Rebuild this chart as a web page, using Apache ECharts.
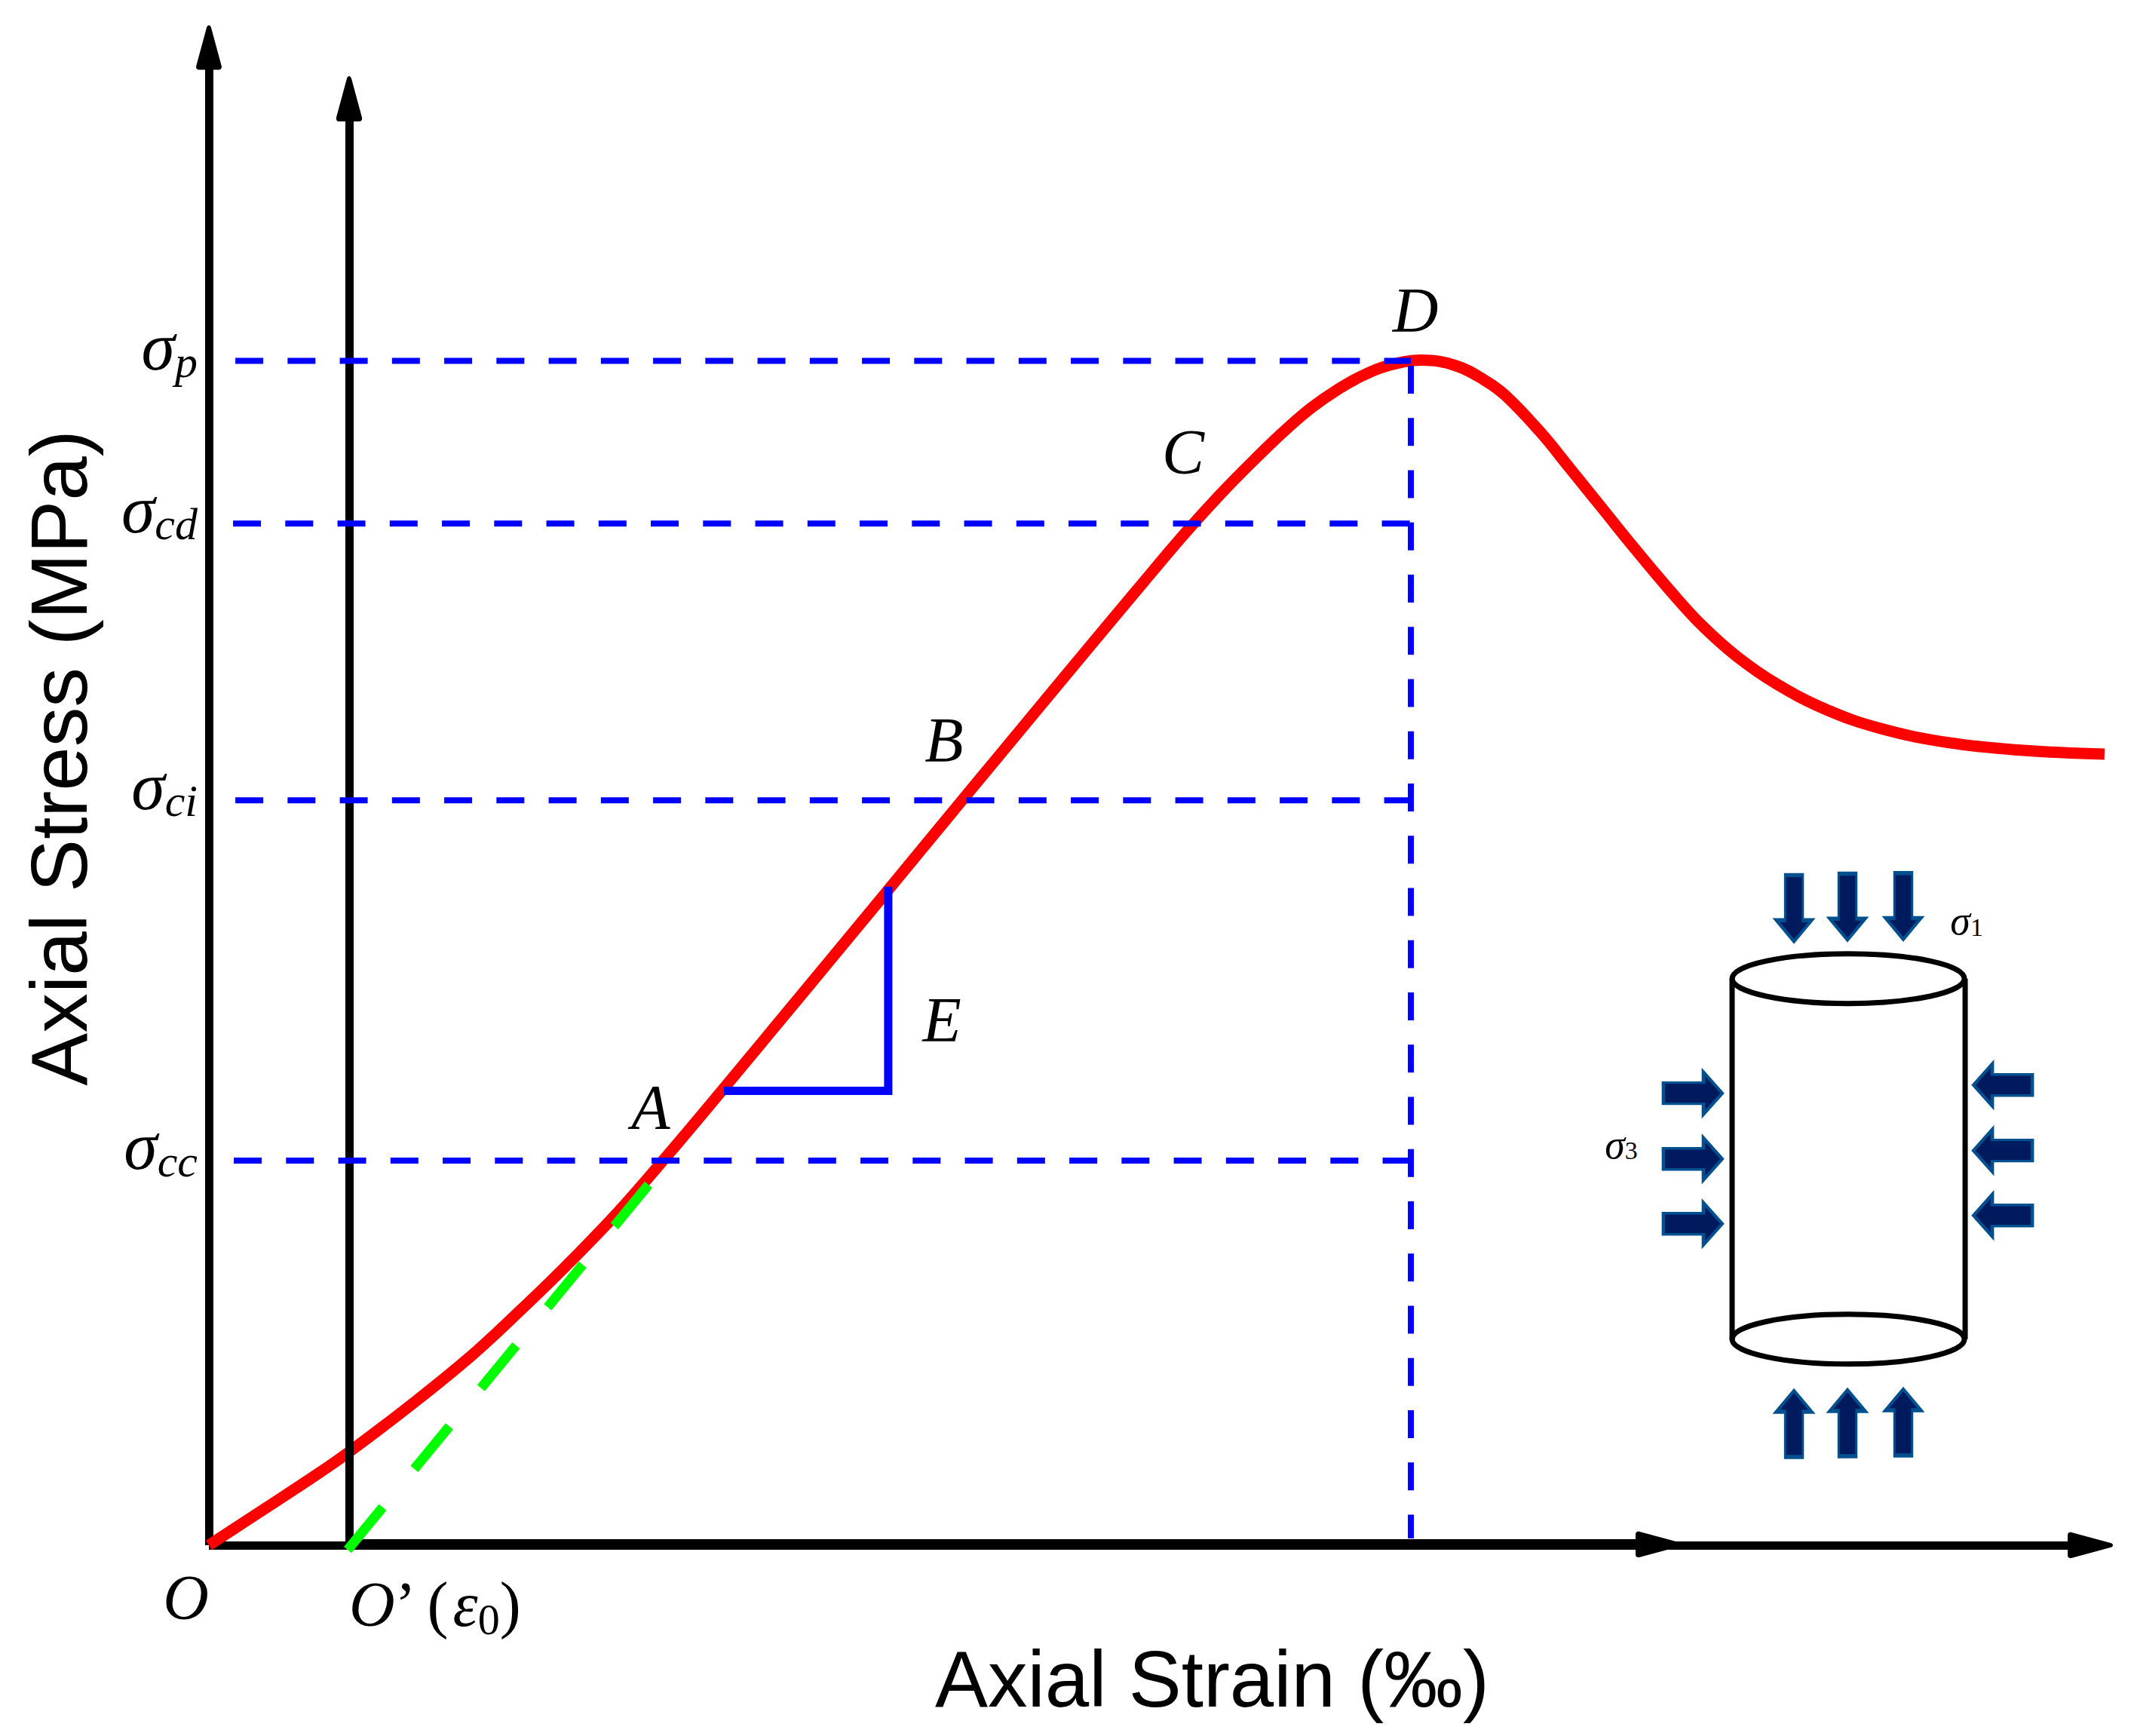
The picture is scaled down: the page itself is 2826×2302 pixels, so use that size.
<!DOCTYPE html>
<html>
<head>
<meta charset="utf-8">
<title>Axial stress-strain curve</title>
<script src="https://cdn.jsdelivr.net/npm/echarts@6/dist/echarts.min.js"></script>
<style>
  html, body { margin: 0; padding: 0; background: #fff; }
  #chart { width: 2826px; height: 2302px; }
</style>
</head>
<body>
<div id="chart"></div>
<script>
// stress-strain curve (arbitrary units, no ticks in the source)
var curveStrain = [0, 0.285, 0.55, 0.733, 1.081, 1.382, 1.632, 1.877, 2.143, 2.392, 2.705, 3.568, 3.96, 5.042, 5.307, 5.529, 5.663, 5.794, 5.925, 6.059, 6.19, 6.368, 6.55, 6.705, 6.808, 6.99, 7.145, 7.327, 7.481, 7.691, 7.844, 8.028, 8.234, 8.495, 8.78, 9.14, 9.529, 9.956];
var curveStress = [0, 2.33, 4.51, 6.1, 9.42, 12.5, 15.4, 18.38, 21.83, 25.4, 30.06, 43.1, 49.06, 65.33, 69.05, 71.87, 73.46, 74.85, 75.99, 76.93, 77.58, 77.95, 77.58, 76.59, 75.64, 73.26, 70.88, 68.06, 65.67, 62.55, 60.47, 58.43, 56.65, 54.96, 53.72, 52.78, 52.28, 52.03];

// stress levels and their dashed guides
var levelNames = ['p', 'cd', 'ci', 'cc'];
var levelStress = [77.9, 67.2, 49.0, 25.3];
var levelStart = [0.139, 0.127, 0.139, 0.131];
var peakStrain = 6.313;
var peakDropStress = [77.58, 0.45];

// tangent modulus line and triangle
var tangentStrain = [0.729, 2.309];
var tangentStress = [-0.3, 23.71];
var triangleStrain = [2.705, 3.568, 3.568];
var triangleStress = [29.88, 29.88, 43.32];

// point labels
var pointNames = ['A', 'B', 'C', 'D', 'E'];
var pointStrain = [2.32, 3.861, 5.117, 6.337, 3.85];
var pointStress = [28.77, 52.93, 71.88, 81.25, 34.57];
var sigmaNames = ['1', '3'];
var sigmaStrain = [9.232, 7.418];
var sigmaStress = [41.07, 26.34];

// specimen sketch
var cylinderStrain = [8.0, 9.224];
var cylinderStress = [37.27, 13.55];
var cylinderMid = 8.61;
var topArrows = [[8.325, 41.89], [8.606, 41.99], [8.899, 42.03]];
var bottomArrows = [[8.325, 7.99], [8.606, 8.04], [8.899, 8.09]];
var leftArrows = [[7.794, 29.73], [7.794, 25.41], [7.794, 21.14]];
var rightArrows = [[9.422, 30.27], [9.422, 25.96], [9.422, 21.69]];

var mathFont = '"Liberation Serif", serif';
var sansFont = '"Liberation Sans", sans-serif';
var arrowPath = 'path://M25,0 H75 V68 H100 L50,100 L0,68 H25 Z';
// axis symbols keep their aspect, so the path box is drawn at 35:60
var headPath = 'path://M29,0 C31,0 33,2 34,5 L57,90 C59,96 56,100 52,100 L6,100 C2,100 -1,96 1,90 L24,5 C25,2 27,0 29,0 Z';

function zip(xs, ys) {
  return xs.map(function(x, i) { return [x, ys[i]]; });
}

function blankAxis(extra) {
  var axis = {
    type: 'value',
    axisTick: { show: false },
    splitLine: { show: false },
    axisLabel: { show: false },
    axisLine: { show: false }
  };
  for (var k in extra) axis[k] = extra[k];
  return axis;
}

// axis ends at the centre of the head so the line does not poke through the tip
function arrowLine(width, size) {
  return {
    show: true,
    onZero: false,
    symbol: ['none', headPath],
    symbolSize: size,
    lineStyle: { color: '#000', width: width, cap: 'butt' }
  };
}

function guide(points, name) {
  return {
    type: 'line',
    name: name,
    data: points,
    z: 4,
    silent: true,
    showSymbol: false,
    clip: false,
    lineStyle: { color: '#0000ff', width: 8, type: [37, 32.25], cap: 'butt' }
  };
}

function arrowSet(name, points, size, rotate) {
  return {
    type: 'scatter',
    name: name,
    data: points,
    z: 6,
    silent: true,
    symbol: arrowPath,
    symbolSize: size,
    symbolRotate: rotate,
    itemStyle: { color: '#001a5e', borderColor: '#00508f', borderWidth: 4, opacity: 1 }
  };
}

function outline(name, points) {
  return {
    type: 'line',
    name: name,
    data: points,
    z: 6,
    silent: true,
    showSymbol: false,
    lineStyle: { color: '#000', width: 7 }
  };
}

var sigmaRich = {
  s: { fontFamily: mathFont, fontStyle: 'italic', fontSize: 90, color: '#000' },
  sub: { fontFamily: mathFont, fontStyle: 'italic', fontSize: 60, color: '#000', padding: [40, 0, 0, 0] }
};

var series = [
  {
    type: 'line',
    name: 'Stress-strain curve',
    data: zip(curveStrain, curveStress),
    z: 2,
    silent: true,
    showSymbol: false,
    clip: false,
    smooth: 0.4,
    lineStyle: { color: '#ff0000', width: 15, cap: 'butt' }
  },
  {
    type: 'line',
    name: 'Tangent',
    data: zip(tangentStrain, tangentStress),
    z: 5,
    silent: true,
    showSymbol: false,
    clip: false,
    lineStyle: { color: '#00ff00', width: 13, type: [73, 66], cap: 'butt' }
  },
  {
    type: 'line',
    name: 'Modulus triangle',
    data: zip(triangleStrain, triangleStress),
    z: 4,
    silent: true,
    showSymbol: false,
    lineStyle: { color: '#0000ff', width: 11, cap: 'butt', join: 'miter' }
  },
  guide([[peakStrain, peakDropStress[0]], [peakStrain, peakDropStress[1]]], 'Peak strain'),
  outline('Cylinder left', [[cylinderStrain[0], cylinderStress[0]], [cylinderStrain[0], cylinderStress[1]]]),
  outline('Cylinder right', [[cylinderStrain[1], cylinderStress[0]], [cylinderStrain[1], cylinderStress[1]]]),
  {
    type: 'custom',
    name: 'Cylinder ends',
    coordinateSystem: 'cartesian2d',
    data: [[cylinderMid, cylinderStress[0]], [cylinderMid, cylinderStress[1]]],
    z: 6,
    silent: true,
    renderItem: function(params, api) {
      var c = api.coord([api.value(0), api.value(1)]);
      return {
        type: 'ellipse',
        shape: { cx: c[0], cy: c[1], rx: 154, ry: 33 },
        style: { fill: '#fff', stroke: '#000', lineWidth: 7 }
      };
    }
  },
  arrowSet('Sigma 1 top', topArrows, [47, 88], 0),
  arrowSet('Sigma 1 bottom', bottomArrows, [47, 88], 180),
  arrowSet('Sigma 3 left', leftArrows, [56, 78], 90),
  arrowSet('Sigma 3 right', rightArrows, [56, 78], -90),
  {
    type: 'scatter',
    name: 'Point labels',
    data: pointNames.map(function(n, i) { return { name: n, value: [pointStrain[i], pointStress[i]] }; }),
    z: 7,
    silent: true,
    symbolSize: 0,
    itemStyle: { opacity: 1 },
    label: {
      show: true,
      position: 'inside',
      formatter: '{b}',
      fontFamily: mathFont,
      fontStyle: 'italic',
      fontSize: 84,
      color: '#000'
    }
  },
  {
    type: 'scatter',
    name: 'Stress labels',
    data: sigmaNames.map(function(n, i) { return { name: n, value: [sigmaStrain[i], sigmaStress[i]] }; }),
    z: 7,
    silent: true,
    symbolSize: 0,
    itemStyle: { opacity: 1 },
    label: {
      show: true,
      position: 'inside',
      formatter: function(p) { return '{s|σ}{sub|' + p.name + '}'; },
      rich: {
        s: { fontFamily: mathFont, fontStyle: 'italic', fontSize: 54, color: '#000' },
        sub: { fontFamily: mathFont, fontSize: 34, color: '#000', padding: [16, 0, 0, 0] }
      }
    }
  }
];

levelNames.forEach(function(n, i) {
  series.push(guide([[levelStart[i], levelStress[i]], [peakStrain, levelStress[i]]], 'sigma ' + n));
});

var chart = echarts.init(document.getElementById('chart'), null, { renderer: 'svg' });
chart.setOption({
  animation: false,
  backgroundColor: '#fff',
  tooltip: { show: false },
  grid: [
    // data grid with labels and names, then the two pairs of arrow axes O and O'
    { left: 277, right: 24, top: 33, bottom: 253, outerBoundsMode: 'none' },
    { left: 277, right: 54, top: 63, bottom: 253, outerBoundsMode: 'none' },
    { left: 463, right: 627, top: 131, bottom: 254, outerBoundsMode: 'none' }
  ],
  xAxis: [
    blankAxis({
      gridIndex: 0,
      min: 0,
      max: 10,
      name: 'Axial Strain (‰)',
      nameLocation: 'middle',
      nameGap: 125,
      nameMoveOverlap: false,
      nameTextStyle: { fontFamily: sansFont, fontSize: 105, color: '#000', padding: [0, 0, 0, 136] },
      axisLabel: {
        show: true,
        customValues: [0],
        formatter: function() { return 'O'; },
        margin: 27,
        align: 'right',
        fontFamily: mathFont,
        fontStyle: 'italic',
        fontSize: 84,
        color: '#000'
      }
    }),
    blankAxis({
      gridIndex: 1,
      min: 0,
      max: 10,
      axisLine: arrowLine(11, [35, 60])
    }),
    blankAxis({
      gridIndex: 2,
      min: 0,
      max: 10,
      z: 3,
      axisLine: arrowLine(14, [35, 60]),
      axisLabel: {
        show: true,
        customValues: [0],
        formatter: function() { return '{i|O}{u|’ (}{i|ε}{sub|0}{u|)}'; },
        margin: 30,
        align: 'left',
        rich: {
          i: { fontFamily: mathFont, fontStyle: 'italic', fontSize: 84, color: '#000' },
          u: { fontFamily: mathFont, fontSize: 84, color: '#000' },
          sub: { fontFamily: mathFont, fontSize: 58, color: '#000', padding: [40, 0, 0, 0] }
        }
      }
    })
  ],
  yAxis: [
    blankAxis({
      gridIndex: 0,
      min: 0,
      max: 100,
      name: 'Axial Stress (MPa)',
      nameLocation: 'middle',
      nameGap: 146,
      nameMoveOverlap: false,
      nameTextStyle: { fontFamily: sansFont, fontSize: 105, color: '#000', padding: [0, 0, 0, 72] },
      axisLabel: {
        show: true,
        customValues: levelStress,
        formatter: function(v) { return '{s|σ}{sub|' + levelNames[levelStress.indexOf(v)] + '}'; },
        margin: 15,
        align: 'right',
        padding: [0, 0, 38, 0],
        rich: sigmaRich
      }
    }),
    blankAxis({
      gridIndex: 1,
      min: 0,
      max: 100,
      axisLine: arrowLine(11, [35, 59])
    }),
    blankAxis({
      gridIndex: 2,
      min: 0,
      max: 100,
      z: 3,
      axisLine: arrowLine(11, [35, 60])
    })
  ],
  series: series
});
window.addEventListener('resize', function() { chart.resize(); });
</script>
</body>
</html>
